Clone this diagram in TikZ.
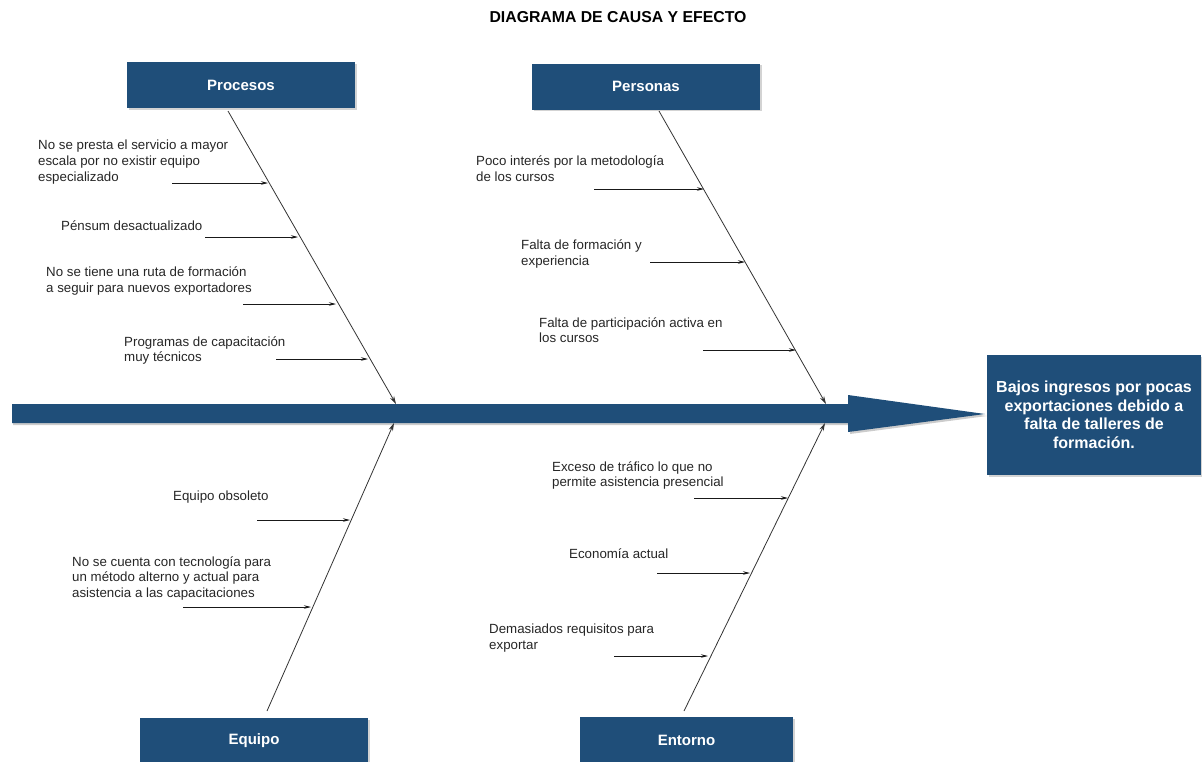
\documentclass[tikz,border=0pt]{standalone}
\usepackage{fontspec}
\setmainfont{Liberation Sans}
\usetikzlibrary{arrows.meta,shadows}
\definecolor{fbblue}{HTML}{1F4E79}
\tikzset{
  catbox/.style={fill=fbblue,draw=none,minimum width=228pt,minimum height=46pt,inner sep=0pt,
    text=white,font=\fontsize{15}{18}\selectfont\bfseries,
    drop shadow={shadow xshift=1.5pt,shadow yshift=-1.5pt,opacity=0.35}},
  cause/.style={anchor=north west,inner sep=0pt,align=left,font=\fontsize{13.3}{15.8}\selectfont,text=black!85},
  bone/.style={draw=black!80,line width=0.8pt,-{Stealth[length=8pt,width=4.5pt]}},
  sub/.style={draw=black!90,line width=0.7pt,-{Stealth[length=7pt,width=3.5pt]}},
}
\begin{document}
\begin{tikzpicture}[x=1pt,y=-1pt]
\useasboundingbox (0,0) rectangle (1202,761);
% title
\node[font=\fontsize{15.8}{18}\selectfont\bfseries] (title) at (618,17) {DIAGRAMA DE CAUSA Y EFECTO};
% spine
\fill[black!40,opacity=0.5] (13,406)--(850,406)--(850,397)--(987,416)--(850,434)--(850,425)--(13,425)--cycle;
\fill[fbblue] (12,404)--(848,404)--(848,395)--(985,414)--(848,432)--(848,423)--(12,423)--cycle;
% effect box
\node[fill=fbblue,minimum width=214pt,minimum height=120pt,inner sep=0pt,text=white,align=center,
  font=\fontsize{16}{18.5}\selectfont\bfseries,
  drop shadow={shadow xshift=2pt,shadow yshift=-2pt,opacity=0.35}] (effect) at (1094,415)
  {Bajos ingresos por pocas\\exportaciones debido a\\falta de talleres  de\\formación.};
% category boxes
\node[catbox] (procesos) at (241,85) {Procesos};
\node[catbox] (personas) at (646,86.5) {Personas};
\node[catbox] (equipo) at (254,741) {Equipo};
\node[catbox,minimum width=213pt] (entorno) at (686.5,740) {Entorno};
% bones
\coordinate (pA) at (228,111); \coordinate (pB) at (396,404);
\coordinate (qA) at (659,111); \coordinate (qB) at (826,404);
\coordinate (eA) at (267,711); \coordinate (eB) at (394,423);
\coordinate (nA) at (684,711); \coordinate (nB) at (825,423);
\draw[bone] (pA) -- (pB);
\draw[bone] (qA) -- (qB);
\draw[bone] (eA) -- (eB);
\draw[bone] (nA) -- (nB);
% Procesos causes
\node[cause] (p1) at (38,140) {No se presta el servicio  a mayor\\escala por no existir equipo\\especializado};
\node[cause] (p2) at (61,221) {Pénsum desactualizado};
\node[cause] (p3) at (46,267) {No se tiene una ruta de formación\\a seguir para  nuevos  exportadores};
\node[cause] (p4) at (124,336) {Programas  de capacitación\\muy técnicos};
\coordinate (p1s) at (172,183); \coordinate (p1e) at (268,183);
\coordinate (p2s) at (205,237); \coordinate (p2e) at (298,237);
\coordinate (p3s) at (243,304); \coordinate (p3e) at (336,304);
\coordinate (p4s) at (276,359); \coordinate (p4e) at (368,359);
\draw[sub] (p1s) -- (p1e);
\draw[sub] (p2s) -- (p2e);
\draw[sub] (p3s) -- (p3e);
\draw[sub] (p4s) -- (p4e);
% Personas causes
\node[cause] (q1) at (476,156) {Poco interés por la metodología\\de los cursos};
\node[cause] (q2) at (521,240) {Falta de formación  y\\experiencia};
\node[cause] (q3) at (539,317) {Falta de participación activa en\\los cursos};
\coordinate (q1s) at (594,189); \coordinate (q1e) at (704,189);
\coordinate (q2s) at (650,262); \coordinate (q2e) at (745,262);
\coordinate (q3s) at (703,350); \coordinate (q3e) at (796,350);
\draw[sub] (q1s) -- (q1e);
\draw[sub] (q2s) -- (q2e);
\draw[sub] (q3s) -- (q3e);
% Equipo causes
\node[cause] (e1) at (173,491) {Equipo obsoleto};
\node[cause] (e2) at (72,556) {No se cuenta con tecnología  para\\un método alterno y actual para\\asistencia a las capacitaciones};
\coordinate (e1s) at (257,520); \coordinate (e1e) at (350,520);
\coordinate (e2s) at (183,607); \coordinate (e2e) at (311,607);
\draw[sub] (e1s) -- (e1e);
\draw[sub] (e2s) -- (e2e);
% Entorno causes
\node[cause] (n1) at (552,461) {Exceso de tráfico lo que no\\permite asistencia presencial};
\node[cause] (n2) at (569,548) {Economía  actual};
\node[cause] (n3) at (489,624) {Demasiados  requisitos para\\exportar};
\coordinate (n1s) at (694,498); \coordinate (n1e) at (788,498);
\coordinate (n2s) at (657,573); \coordinate (n2e) at (750,573);
\coordinate (n3s) at (614,656); \coordinate (n3e) at (708,656);
\draw[sub] (n1s) -- (n1e);
\draw[sub] (n2s) -- (n2e);
\draw[sub] (n3s) -- (n3e);
\end{tikzpicture}
\end{document}
